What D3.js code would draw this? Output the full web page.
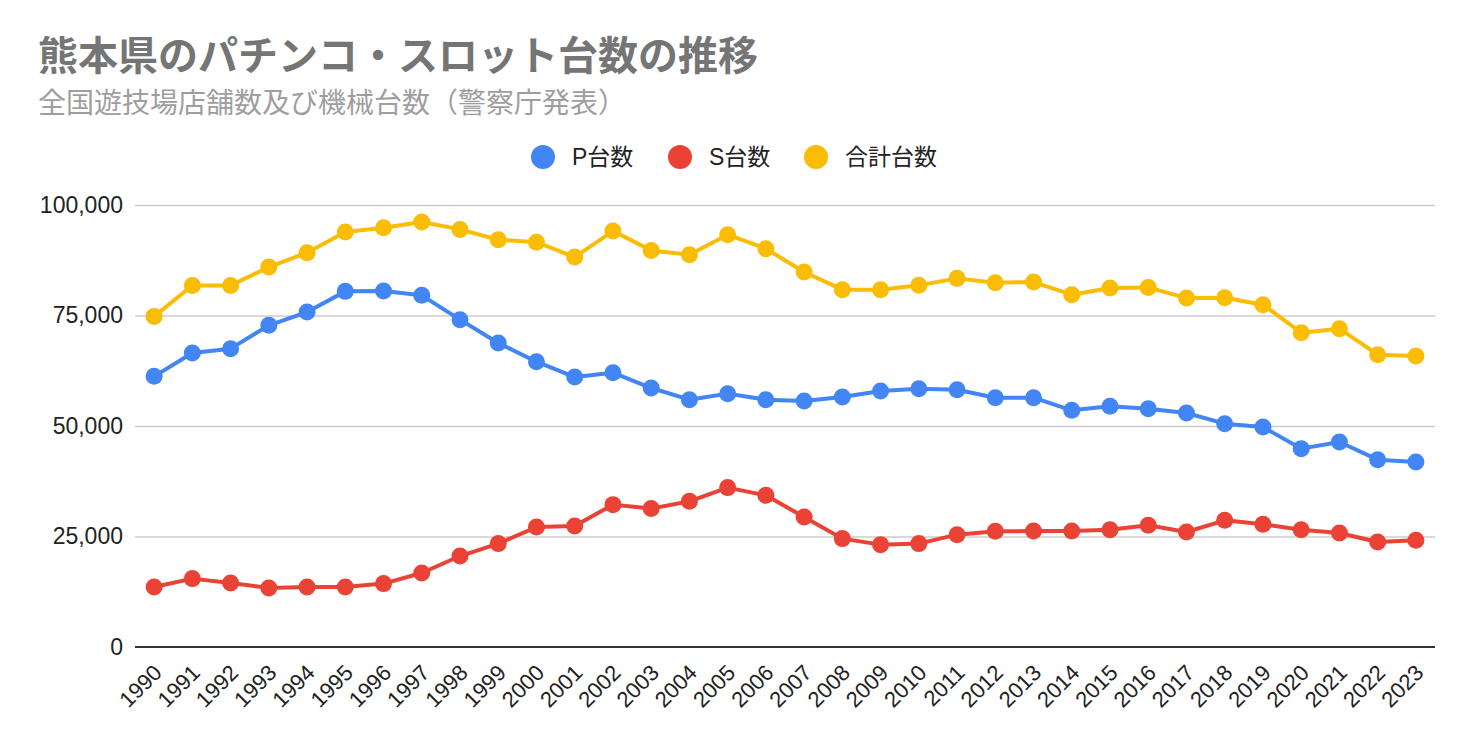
<!DOCTYPE html>
<html><head><meta charset="utf-8">
<script src="https://cdn.jsdelivr.net/npm/d3@7"></script>
<style>body{margin:0;background:#fff;font-family:Arial,"Liberation Sans","Noto Sans CJK JP",sans-serif}</style>
</head><body>
<svg id="c" width="1472" height="742"></svg>
<script>
const years = ["1990","1991","1992","1993","1994","1995","1996","1997","1998","1999","2000","2001","2002","2003","2004","2005","2006","2007","2008","2009","2010","2011","2012","2013","2014","2015","2016","2017","2018","2019","2020","2021","2022","2023"];
const pValues = [61230,66500,67500,72770,75780,80460,80550,79560,74060,68770,64550,61070,62070,58590,55960,57320,55960,55650,56550,57910,58450,58220,56410,56410,53540,54450,53920,52930,50530,49760,44880,46370,42390,41850];
const sValues = [13570,15470,14480,13350,13570,13570,14340,16740,20580,23390,27140,27370,32210,31310,32960,36060,34310,29410,24520,23160,23390,25420,26170,26240,26240,26550,27530,26010,28660,27750,26550,25790,23750,24140];
const totalValues = [74800,81800,81800,85960,89200,93870,94870,96140,94480,92150,91580,88220,94100,89730,88760,93280,90120,84830,80840,80840,81820,83400,82420,82570,79710,81210,81360,78940,79030,77450,71120,72020,66140,65830];
const yTicks = [0,25000,50000,75000,100000];
const seriesNames = ["P台数","S台数","合計台数"];
const seriesColors = ["#4285F4","#EA4335","#FBBC04"];
const titleText = "熊本県のパチンコ・スロット台数の推移";
const subtitleText = "全国遊技場店舗数及び機械台数（警察庁発表）";

const svg = d3.select("#c");
const L=135, R=1435, T=205, B=647;
const x = d3.scaleBand().domain(years).range([L,R]);
const y = d3.scaleLinear().domain([0,100000]).range([B,T]);
const cx = d=>x(d)+x.bandwidth()/2;

svg.append("text").attr("x",38).attr("y",70).text(titleText)
  .attr("font-size",40).attr("font-weight","bold").attr("fill","#757575")
  .attr("font-family","'Noto Sans CJK JP',sans-serif");
svg.append("text").attr("x",38).attr("y",113).text(subtitleText)
  .attr("font-size",28).attr("fill","#9e9e9e")
  .attr("font-family","'Noto Sans CJK JP',sans-serif");

// gridlines
const yAxis = d3.axisLeft(y).tickValues(yTicks).tickSize(-(R-L)).tickFormat(d3.format(","));
const ga = svg.append("g").attr("transform",`translate(${L},0)`).call(yAxis);
ga.select(".domain").remove();
ga.selectAll(".tick line").attr("stroke","#cccccc").attr("stroke-width",1.5);
ga.selectAll(".tick text").attr("x",-12).attr("font-size",23).attr("fill","#222")
  .attr("font-family","Arial,'Liberation Sans',sans-serif");
ga.selectAll(".tick").filter(d=>d===0).select("line").remove();

// baseline
svg.append("line").attr("x1",L).attr("x2",R).attr("y1",y(0)).attr("y2",y(0))
  .attr("stroke","#333").attr("stroke-width",2);

// x axis
const xAxis = d3.axisBottom(x).tickSize(0);
const gx = svg.append("g").attr("transform",`translate(0,${B})`).call(xAxis);
gx.select(".domain").remove();
gx.selectAll(".tick text")
  .attr("font-size",22).attr("fill","#222").attr("font-family","Arial,'Liberation Sans',sans-serif")
  .attr("text-anchor","end").attr("dy",0).attr("dx",0)
  .attr("transform","translate(7,25) rotate(-45)");

const all = [pValues,sValues,totalValues];
const line = d3.line().x((d,i)=>cx(years[i])).y(d=>y(d));
const order=[2,1,0];
order.forEach(k=>{
  svg.append("path").datum(all[k]).attr("d",line).attr("fill","none")
    .attr("stroke",seriesColors[k]).attr("stroke-width",4).attr("stroke-linejoin","round");
  svg.append("g").selectAll("circle").data(all[k]).join("circle")
    .attr("cx",(d,i)=>cx(years[i])).attr("cy",d=>y(d)).attr("r",8.5).attr("fill",seriesColors[k]);
});

// legend
const legX=[543,680,816];
seriesNames.forEach((n,i)=>{
  svg.append("circle").attr("cx",legX[i]).attr("cy",157).attr("r",12).attr("fill",seriesColors[i]);
  svg.append("text").attr("x",legX[i]+29).attr("y",165).text(n).attr("font-size",23).attr("fill","#222")
    .attr("font-family","Arial,'Liberation Sans','Noto Sans CJK JP',sans-serif");
});
</script>
</body></html>
